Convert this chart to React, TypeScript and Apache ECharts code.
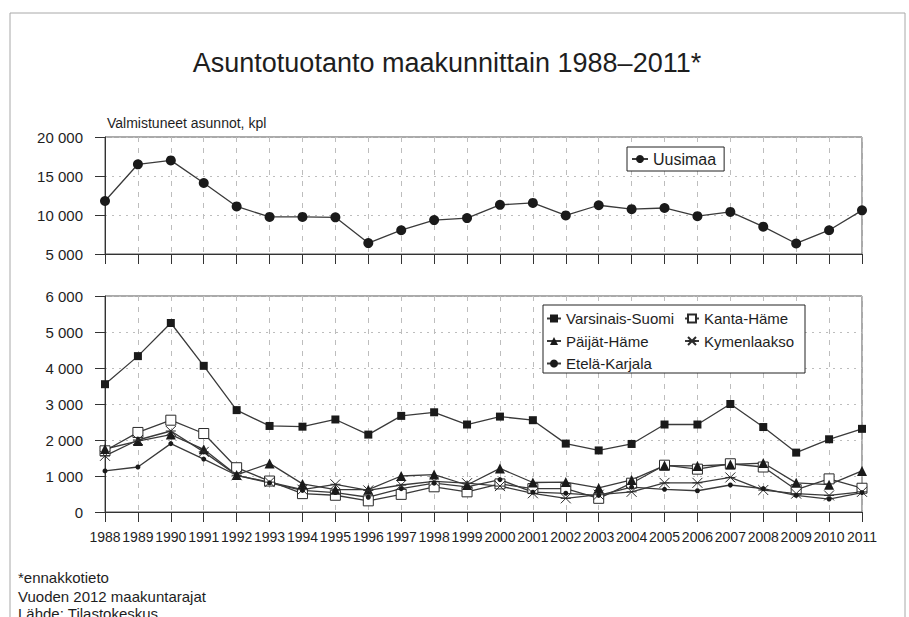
import React, { useEffect, useRef } from "react";
import * as echarts from "echarts";

const years = ["1988","1989","1990","1991","1992","1993","1994","1995","1996","1997","1998","1999","2000","2001","2002","2003","2004","2005","2006","2007","2008","2009","2010","2011"];
const uusimaa = [11800, 16500, 17000, 14100, 11100, 9750, 9750, 9700, 6400, 8050, 9350, 9600, 11300, 11550, 9950, 11250, 10750, 10900, 9850, 10400, 8500, 6350, 8050, 10600];
const varsinaisSuomi = [3550, 4330, 5250, 4060, 2830, 2390, 2370, 2570, 2150, 2670, 2770, 2430, 2650, 2550, 1900, 1710, 1890, 2430, 2430, 3000, 2360, 1650, 2020, 2310];
const kantaHame = [1700, 2210, 2550, 2180, 1230, 860, 510, 465, 310, 490, 700, 560, 780, 650, 650, 380, 800, 1300, 1190, 1340, 1250, 620, 920, 660];
const paijatHame = [1750, 1970, 2150, 1740, 1030, 1350, 780, 620, 620, 1000, 1040, 750, 1210, 820, 830, 670, 890, 1290, 1280, 1320, 1360, 810, 760, 1140];
const kymenlaakso = [1560, 2000, 2250, 1670, 1020, 830, 620, 770, 600, 750, 850, 800, 720, 520, 380, 480, 560, 810, 810, 960, 610, 510, 460, 560];
const etelaKarjala = [1140, 1250, 1900, 1470, 1020, 810, 600, 540, 410, 650, 800, 700, 900, 550, 520, 460, 690, 630, 590, 750, 650, 460, 360, 540];

const FONT = "'Liberation Sans', Arial, sans-serif";
const LINE = "#3a3a3a";
const TXT = "#1e1e1e";

const fmt = (v: number) => (v === 0 ? "0" : String(v).replace(/\B(?=(\d{3})+(?!\d))/g, " "));

function xAxis(gridIndex: number, showLabels: boolean) {
  return {
    type: "category",
    gridIndex,
    data: years,
    boundaryGap: false,
    axisLine: { show: true, lineStyle: { color: "#333", width: 1 } },
    axisTick: { show: true, length: 10, interval: 0, lineStyle: { color: "#333" } },
    axisLabel: {
      show: showLabels,
      interval: 0,
      margin: 18,
      fontSize: 14,
      fontFamily: FONT,
      color: TXT,
    },
    splitLine: { show: true, interval: 0, lineStyle: { color: "#bdbdbd", type: [5, 6], width: 1 } },
  };
}

function yAxis(gridIndex: number, min: number, max: number, interval: number) {
  return {
    type: "value",
    gridIndex,
    min,
    max,
    interval,
    axisLine: { show: true, lineStyle: { color: "#333", width: 1 } },
    axisTick: { show: true, length: 10, lineStyle: { color: "#333" } },
    axisLabel: { margin: 22, fontSize: 15, fontFamily: FONT, color: TXT, formatter: fmt },
    splitLine: { show: true, lineStyle: { color: "#bdbdbd", type: [2, 5], width: 1 } },
  };
}

const crossPath = "path://M0,0L10,10M10,0L0,10M0,5L10,5";

function lineSeries(name: string, data: number[], idx: number, symbol: string, size: number, hollow = false) {
  return {
    name,
    type: "line",
    xAxisIndex: idx,
    yAxisIndex: idx,
    data,
    symbol,
    symbolSize: size,
    showSymbol: true,
    lineStyle: { color: LINE, width: 1.3 },
    itemStyle: hollow
      ? { color: "#ffffff", borderColor: "#2a2a2a", borderWidth: 1 }
      : symbol === crossPath
      ? { color: "none", borderColor: "#2a2a2a", borderWidth: 1 }
      : { color: "#1a1a1a", borderColor: "#1a1a1a", borderWidth: 0 },
    color: LINE,
    emphasis: { disabled: true },
  };
}

export default function App() {
  const ref = useRef<HTMLDivElement>(null);
  useEffect(() => {
    if (!ref.current) return;
    const chart = echarts.init(ref.current, null, { renderer: "svg" });
    const legendText = { fontSize: 15, fontFamily: FONT, color: TXT, lineHeight: 15 };
    chart.setOption({
      animation: false,
      backgroundColor: "#ffffff",
      grid: [
        { left: 105, width: 757, top: 137, height: 117, show: true, borderColor: "#555", borderWidth: 1, backgroundColor: "transparent" },
        { left: 105, width: 757, top: 296, height: 216, show: true, borderColor: "#555", borderWidth: 1, backgroundColor: "transparent" },
      ],
      xAxis: [xAxis(0, false), xAxis(1, true)],
      yAxis: [yAxis(0, 5000, 20000, 5000), yAxis(1, 0, 6000, 1000)],
      legend: [
        {
          data: ["Uusimaa"],
          left: 627,
          top: 147,
          padding: [4, 8, 4, 4],
          borderColor: "#222",
          borderWidth: 1,
          backgroundColor: "#ffffff",
          itemWidth: 16,
          itemHeight: 10,
          textStyle: { ...legendText, fontSize: 16 },
          selectedMode: false,
        },
        {
          data: ["Varsinais-Suomi", "Päijät-Häme", "Etelä-Karjala"],
          orient: "vertical",
          left: 546,
          top: 311,
          padding: 0,
          itemGap: 7.5,
          itemWidth: 14,
          itemHeight: 10,
          textStyle: legendText,
          selectedMode: false,
        },
        {
          data: ["Kanta-Häme", "Kymenlaakso"],
          orient: "vertical",
          left: 684,
          top: 311,
          padding: 0,
          itemGap: 7.5,
          itemWidth: 14,
          itemHeight: 10,
          textStyle: legendText,
          selectedMode: false,
        },
      ],
      graphic: [
        { type: "rect", silent: true, z: -10, shape: { x: 10, y: 13, width: 895, height: 640 }, style: { fill: "none", stroke: "#a8a8a8", lineWidth: 1 } },
        { type: "rect", silent: true, z: 1, shape: { x: 543, y: 305, width: 262, height: 68 }, style: { fill: "#ffffff", stroke: "#222", lineWidth: 1 } },
        { type: "text", x: 447, y: 63, style: { text: "Asuntotuotanto maakunnittain 1988–2011*", font: `27px ${FONT}`, fill: TXT, textAlign: "center", textVerticalAlign: "middle" } },
        { type: "text", x: 107, y: 123, style: { text: "Valmistuneet asunnot, kpl", font: `14px ${FONT}`, fill: TXT, textAlign: "left", textVerticalAlign: "middle" } },
        { type: "text", x: 18, y: 577, style: { text: "*ennakkotieto", font: `15px ${FONT}`, fill: TXT, textAlign: "left", textVerticalAlign: "middle" } },
        { type: "text", x: 18, y: 596, style: { text: "Vuoden 2012 maakuntarajat", font: `15px ${FONT}`, fill: TXT, textAlign: "left", textVerticalAlign: "middle" } },
        { type: "text", x: 18, y: 613, style: { text: "Lähde: Tilastokeskus", font: `15px ${FONT}`, fill: TXT, textAlign: "left", textVerticalAlign: "middle" } },
      ],
      series: [
        lineSeries("Uusimaa", uusimaa, 0, "circle", 10),
        lineSeries("Varsinais-Suomi", varsinaisSuomi, 1, "rect", 8),
        lineSeries("Kanta-Häme", kantaHame, 1, "rect", 10, true),
        lineSeries("Päijät-Häme", paijatHame, 1, "triangle", 10),
        lineSeries("Kymenlaakso", kymenlaakso, 1, crossPath, 10),
        lineSeries("Etelä-Karjala", etelaKarjala, 1, "circle", 5),
      ],
    });
    return () => chart.dispose();
  }, []);
  return <div ref={ref} style={{ position: "fixed", left: 0, top: 0, width: 909, height: 617 }} />;
}
